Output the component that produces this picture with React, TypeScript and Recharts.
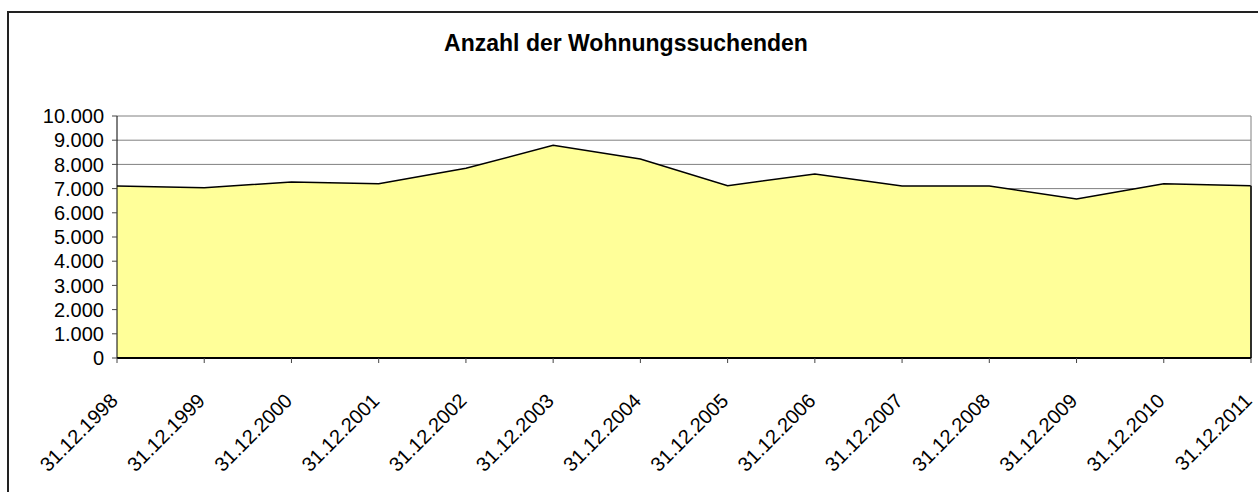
import { AreaChart, Area, XAxis, YAxis, CartesianGrid, ReferenceLine } from 'recharts';

const dates = [
    '31.12.1998', '31.12.1999', '31.12.2000', '31.12.2001', '31.12.2002', '31.12.2003', '31.12.2004',
    '31.12.2005', '31.12.2006', '31.12.2007', '31.12.2008', '31.12.2009', '31.12.2010', '31.12.2011',
];
const seekers = [7110, 7040, 7270, 7200, 7840, 8790, 8220, 7120, 7600, 7110, 7110, 6570, 7200, 7120];
const yTicks = [0, 1000, 2000, 3000, 4000, 5000, 6000, 7000, 8000, 9000, 10000];

const data = dates.map((date, i) => ({ date, value: seekers[i] }));
const lastDate = dates[dates.length - 1];
const lastValue = seekers[seekers.length - 1];

const FONT = '"Liberation Sans", Arial, sans-serif';

const formatThousands = (v: number) => String(v).replace(/\B(?=(\d{3})+(?!\d))/g, '.');

const DateTick = (props: any) => {
    const { x, y, payload } = props;
    const ax = x + 2;
    const ay = y + 37;
    return (
        <text
            x={ax}
            y={ay}
            transform={`rotate(-45, ${ax}, ${ay})`}
            textAnchor="end"
            fontSize={20}
            fontFamily={FONT}
            fill="#000"
        >
            {payload.value}
        </text>
    );
};

export default function App() {
    return (
        <div style={{ position: 'absolute', left: 0, top: 0, width: 1258, height: 492, overflow: 'hidden', background: '#fff' }}>
            <div
                style={{
                    position: 'absolute',
                    left: 7,
                    top: 11,
                    width: 1400,
                    height: 700,
                    border: '2px solid #222',
                }}
            />
            <svg style={{ position: 'absolute', left: 0, top: 0 }} width={1258} height={70}>
                <text x={626} y={51} textAnchor="middle" fontSize={23} fontWeight="bold" fontFamily={FONT} fill="#000">
                    Anzahl der Wohnungssuchenden
                </text>
            </svg>
            <div style={{ position: 'absolute', left: 0, top: 0 }}>
                <AreaChart width={1258} height={492} data={data} margin={{ top: 116, right: 7, bottom: 14, left: 7 }}>
                    <CartesianGrid vertical={false} stroke="#808080" strokeWidth={1} />
                    <XAxis
                        dataKey="date"
                        interval={0}
                        height={120}
                        tick={<DateTick />}
                        tickSize={5}
                        axisLine={{ stroke: '#000', strokeWidth: 2 }}
                        tickLine={{ stroke: '#444' }}
                    />
                    <YAxis
                        domain={[0, 10000]}
                        ticks={yTicks}
                        interval={0}
                        width={110}
                        tickSize={5}
                        tickMargin={8}
                        tickFormatter={formatThousands}
                        tick={{ fontSize: 20, fontFamily: FONT, fill: '#000' }}
                        axisLine={{ stroke: '#000' }}
                        tickLine={{ stroke: '#444' }}
                    />
                    <Area
                        type="linear"
                        dataKey="value"
                        stroke="#000"
                        strokeWidth={1.5}
                        fill="#FFFF99"
                        fillOpacity={1}
                        isAnimationActive={false}
                    />
                    <ReferenceLine x={lastDate} stroke="#808080" />
                    <ReferenceLine
                        segment={[{ x: lastDate, y: 0 }, { x: lastDate, y: lastValue }]}
                        stroke="#000"
                        strokeWidth={1.5}
                    />
                </AreaChart>
            </div>
        </div>
    );
}
